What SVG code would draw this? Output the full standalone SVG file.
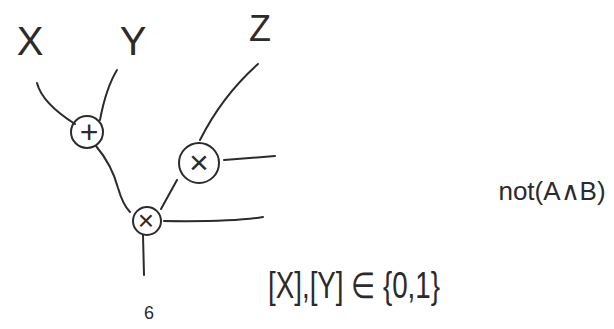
<svg xmlns="http://www.w3.org/2000/svg" width="614" height="329" viewBox="0 0 614 329">
<style>
.s{fill:none;stroke:#2b2b2b;stroke-width:2;stroke-linecap:round;stroke-linejoin:round}
.t{font-family:"Liberation Sans",Arial,sans-serif;fill:#2b2b2b;text-anchor:middle}
</style>
<rect width="614" height="329" fill="#ffffff"/>
<g id="connectors">
<path class="s" d="M37,83 Q42,103 75,124"/>
<path class="s" d="M117,70 Q106,88 100,120"/>
<path class="s" d="M96,146 Q112,165 118,188 Q123,205 130,212"/>
<path class="s" d="M258,64 Q222,96 200,140"/>
<path class="s" d="M224,160 L275,156"/>
<path class="s" d="M177,180 L161,209"/>
<path class="s" d="M164,221 Q235,222 263,217"/>
<path class="s" d="M143,235 L144,275"/>
</g>
<g id="node-x"><text class="t" x="30" y="55" font-size="40">X</text></g>
<g id="node-y"><text class="t" x="133" y="55" font-size="40">Y</text></g>
<g id="node-z"><text class="t" x="260" y="41" font-size="36">Z</text></g>
<g id="node-plus"><circle class="s" cx="87" cy="132" r="16"/><text class="t" x="89" y="143" font-size="32">+</text></g>
<g id="node-times1"><circle class="s" cx="199" cy="163" r="20"/><text class="t" x="199" y="174" font-size="34">×</text></g>
<g id="node-times2"><circle class="s" cx="147" cy="221" r="14"/><text class="t" x="146" y="230" font-size="28">×</text></g>
<g id="node-6"><text class="t" x="149" y="319" font-size="18">6</text></g>
<g id="label-domain"><text class="t" x="354" y="298" font-size="36" textLength="172" lengthAdjust="spacingAndGlyphs">[X],[Y] ∈ {0,1}</text></g>
<g id="label-not"><text class="t" x="552" y="200" font-size="26">not(A∧B)</text></g>
</svg>
